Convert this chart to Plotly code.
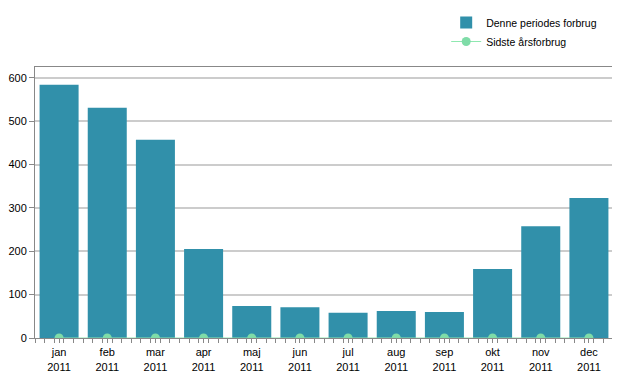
import plotly.graph_objects as go

months = ["jan", "feb", "mar", "apr", "maj", "jun", "jul", "aug", "sep", "okt", "nov", "dec"]
year = "2011"
current = [584, 531, 457, 205, 74, 71, 58, 62, 60, 159, 258, 323]
last_year = [0, 0, 0, 0, 0, 0, 0, 0, 0, 0, 0, 0]

x = list(range(len(months)))
labels = [f"{m}<br>{year}" for m in months]

fig = go.Figure()
fig.add_trace(go.Bar(
    x=x, y=current, name="Denne periodes forbrug",
    marker=dict(color="#3190aa", line=dict(width=0)),
    width=0.81,
))
fig.add_trace(go.Scatter(
    x=x, y=last_year, name="Sidste årsforbrug", mode="lines+markers",
    line=dict(color="#8fe8b0", width=1),
    marker=dict(color="#7fdca8", size=9, line=dict(width=0)),
    cliponaxis=True,
))

# page has an 8px body margin; figure is sized to fill the rest
fig.update_layout(
    width=612, height=372,
    margin=dict(l=27, r=7, t=59, b=42, autoexpand=False),
    paper_bgcolor="white", plot_bgcolor="white",
    font=dict(family="Liberation Sans", size=11, color="#000"),
    showlegend=True,
    legend=dict(xref="container", yref="container", x=0.716, y=1.0,
                xanchor="left", yanchor="top",
                bgcolor="rgba(0,0,0,0)", font=dict(size=10.5),
                tracegroupgap=0),
    bargap=0.19,
)
fig.update_xaxes(
    range=[-0.5, 11.5], tickmode="array", tickvals=x, ticktext=labels,
    showgrid=False, showline=True, linecolor="#888888", linewidth=1, mirror=True,
    ticks="outside", ticklen=4, tickcolor="#888888",
    minor=dict(ticks="outside", dtick=0.2, tick0=-0.5, ticklen=4, tickcolor="#888888"),
    zeroline=False, automargin=False,
)
fig.update_yaxes(
    range=[0, 625], dtick=100, showgrid=True, gridcolor="#cccccc", gridwidth=2,
    showline=True, linecolor="#888888", linewidth=1, mirror=True,
    ticks="outside", ticklen=5, tickcolor="#888888", zeroline=False, automargin=False,
)

fig.write_html("out.html")
